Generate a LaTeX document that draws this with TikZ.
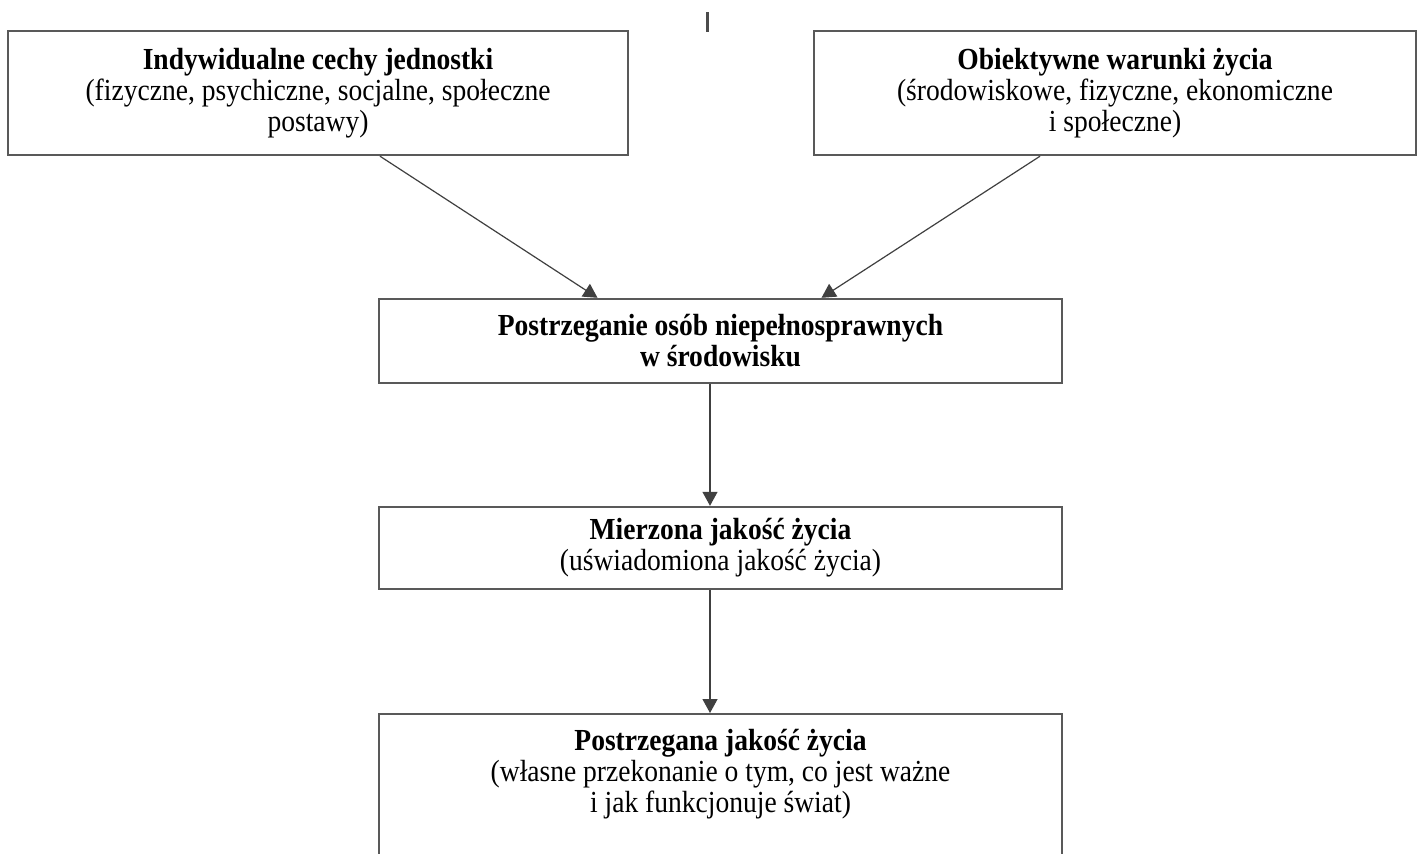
\documentclass[tikz,border=0pt]{standalone}
\usepackage{fontspec}
\setmainfont{Liberation Serif}[FakeStretch=0.9]
\usetikzlibrary{arrows.meta,calc}
\begin{document}
\begin{tikzpicture}[x=0.5pt,y=-0.5pt,
  box/.style={draw=black!65,line width=1.2pt,fill=white,inner sep=0pt,align=center,
    font=\fontsize{15.3}{15.5}\selectfont},
  txt/.style={inner sep=0pt,align=center,font=\fontsize{15.3}{15.5}\selectfont},
  arr/.style={draw=black!75,line width=0.6pt,-{Triangle[length=7pt,width=7.5pt]}}]
\useasboundingbox (0,0) rectangle (1418,853);
\fill[white] (0,0) rectangle (1418,853);
% small fragment at top
\coordinate (t1) at (707,12);
\coordinate (t2) at (707,32);
\draw[black!70,line width=1.5pt] (t1) -- (t2);
\node[box,minimum width=310pt,minimum height=62pt] (a) at (318,93)
  {\textbf{Indywidualne cechy jednostki}\\(fizyczne, psychiczne, socjalne, społeczne\\postawy)};
\node[box,minimum width=301pt,minimum height=62pt] (b) at (1115,93)
  {\textbf{Obiektywne warunki życia}\\(środowiskowe, fizyczne, ekonomiczne\\i społeczne)};
\node[box,minimum width=341.5pt,minimum height=42pt] (c) at (720.5,341)
  {\textbf{Postrzeganie osób niepełnosprawnych}\\\textbf{w środowisku}};
\node[box,minimum width=341.5pt,minimum height=41pt] (d) at (720.5,548)
  {\textbf{Mierzona jakość życia}\\(uświadomiona jakość życia)};
\node[box,minimum width=341.5pt,minimum height=120pt,anchor=north] (e) at (720.5,713) {};
\node[txt,anchor=north] (etxt) at ($(e.north)+(0,16)$)
  {\textbf{Postrzegana jakość życia}\\(własne przekonanie o tym, co jest ważne\\i jak funkcjonuje świat)};
\draw[arr] ($(a.south)+(62,0)$) -- ($(c.north)+(-123,0)$);
\draw[arr] ($(b.south)+(-75,0)$) -- ($(c.north)+(101,0)$);
\draw[arr] ($(c.south)+(-10.5,0)$) -- ($(d.north)+(-10.5,0)$);
\draw[arr] ($(d.south)+(-10.5,0)$) -- ($(e.north)+(-10.5,0)$);
\end{tikzpicture}
\end{document}
